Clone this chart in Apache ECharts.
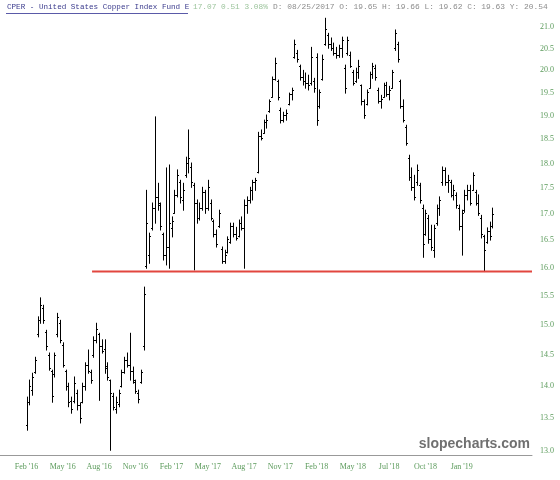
<!DOCTYPE html>
<html><head><meta charset="utf-8">
<script src="https://cdn.jsdelivr.net/npm/echarts@6/dist/echarts.min.js"></script>
<style>html,body{margin:0;padding:0;background:#fff}#c{width:560px;height:480px}</style>
</head><body><div id="c"></div>
<script>
// Weekly-style OHLC bars (CPER), index 0 = first bar (Feb '16)
const opens = [13.45,13.80,14.00,14.28,14.90,15.15,15.35,14.95,14.55,14.30,
14.25,14.90,15.10,14.72,14.30,14.05,13.82,13.82,13.95,13.75,
13.80,14.05,14.40,14.28,14.55,14.80,14.90,14.70,14.65,14.38,
14.15,13.90,13.70,13.78,14.05,14.28,14.48,14.40,14.30,14.12,
13.95,14.12,14.70,16.10,16.30,16.80,17.20,17.40,17.25,16.70,
16.30,16.45,16.80,17.10,17.45,17.70,17.35,17.85,18.10,18.00,
17.65,17.30,17.00,17.20,17.50,17.20,17.30,16.95,16.70,16.85,
16.42,16.20,16.35,16.55,16.85,16.70,16.65,16.90,16.80,17.25,
17.35,17.55,17.70,17.90,18.65,18.72,18.95,19.18,19.50,19.90,
19.85,19.20,19.00,19.10,19.35,19.55,20.40,20.50,20.20,19.95,
19.85,19.80,19.80,19.85,20.40,19.30,19.90,20.70,20.90,20.70,
20.60,20.50,20.45,20.60,20.15,20.50,20.45,20.05,19.85,20.05,
19.75,19.40,19.35,19.70,20.00,20.15,19.65,19.40,19.50,19.75,
19.55,19.70,20.60,20.70,19.85,19.30,18.85,18.20,17.80,17.60,
17.70,17.65,17.20,16.70,17.00,16.60,16.40,16.90,17.20,17.70,
17.95,17.70,17.70,17.45,17.45,17.20,16.85,17.15,17.45,17.55,
17.55,17.50,17.30,17.00,16.65,16.55,16.75,16.85];
const highs = [13.88,14.15,14.26,14.52,15.20,15.53,15.40,14.97,14.59,14.31,
14.59,15.26,15.14,14.76,14.31,14.10,13.88,14.20,13.99,13.79,
14.10,14.43,14.64,14.31,14.86,15.09,14.92,14.81,14.81,14.43,
14.15,13.94,13.88,13.99,14.31,14.52,14.59,14.92,14.36,14.15,
13.99,14.31,15.72,17.54,16.71,17.29,19.06,17.68,17.29,16.71,
17.99,18.05,17.02,17.54,17.95,17.74,17.68,18.21,18.78,18.09,
17.68,17.35,17.29,17.60,17.54,17.74,17.35,16.96,16.77,17.15,
16.45,16.39,16.64,16.90,16.90,16.82,16.96,17.02,17.35,17.41,
17.60,17.74,17.78,18.73,18.78,18.99,19.10,19.43,19.94,20.37,
19.87,19.25,19.16,19.21,19.58,19.69,20.79,20.55,20.21,20.09,
20.03,19.98,20.62,19.91,20.47,19.65,20.44,21.31,20.95,20.84,
20.72,20.62,20.67,20.86,20.21,20.86,20.51,20.09,20.14,20.32,
19.76,19.43,19.65,20.05,20.25,20.21,19.69,19.53,19.80,19.82,
19.73,20.09,21.03,20.74,19.87,19.43,18.88,18.25,17.99,17.84,
18.05,17.68,17.25,17.15,17.05,16.86,16.86,17.25,17.41,18.01,
17.99,17.84,17.74,17.64,17.49,17.25,17.15,17.54,17.64,17.64,
17.89,17.54,17.45,17.05,16.67,16.81,16.92,17.19];
const lows = [13.37,13.76,13.91,14.26,14.86,15.09,15.09,14.64,14.31,13.80,
14.20,14.86,14.76,14.36,13.99,13.73,13.63,13.79,13.68,13.48,
13.79,13.99,14.26,14.10,14.52,14.76,13.83,14.59,14.26,14.15,
13.07,13.68,13.63,13.73,14.04,14.26,14.36,14.15,14.10,13.94,
13.79,14.10,14.64,16.06,16.15,16.77,16.90,17.15,16.77,16.21,
16.12,16.06,16.64,17.09,17.41,17.29,17.15,17.80,17.89,17.60,
16.03,16.90,16.96,17.15,17.09,17.15,16.96,16.64,16.45,16.82,
16.15,16.15,16.34,16.52,16.64,16.58,16.64,16.77,16.06,17.09,
17.29,17.35,17.54,17.89,18.57,18.71,18.82,19.16,19.49,19.87,
19.43,18.93,18.95,18.99,19.32,19.43,20.37,20.28,19.87,19.76,
19.69,19.65,19.76,19.60,18.88,19.25,19.87,20.67,20.60,20.55,
20.44,20.37,20.39,20.39,19.58,20.44,20.16,19.76,19.82,19.91,
19.32,19.03,19.32,19.69,19.91,19.87,19.36,19.25,19.49,19.51,
19.43,19.69,20.55,20.28,19.25,18.95,18.46,17.74,17.54,17.35,
17.64,17.29,16.26,16.67,16.52,16.39,16.26,16.86,17.05,17.64,
17.64,17.50,17.41,17.35,17.19,16.77,16.30,17.11,17.35,17.25,
17.54,17.25,17.05,16.62,16.00,16.52,16.58,16.81];
const closes = [13.80,14.05,14.20,14.48,15.15,15.40,15.15,14.70,14.35,13.90,
14.55,15.20,14.80,14.40,14.05,13.80,13.70,14.10,13.75,13.55,
14.05,14.40,14.30,14.15,14.80,15.00,14.70,14.62,14.35,14.20,
13.95,13.72,13.80,13.95,14.28,14.48,14.40,14.30,14.15,13.98,
13.85,14.28,15.60,16.90,16.65,17.20,17.40,17.30,16.85,16.30,
16.45,16.90,16.95,17.45,17.85,17.40,17.55,18.10,18.20,17.70,
17.30,17.00,17.20,17.50,17.20,17.60,17.00,16.70,16.50,17.10,
16.20,16.30,16.60,16.85,16.70,16.62,16.90,16.80,17.25,17.35,
17.55,17.70,17.75,18.65,18.60,18.95,19.00,19.40,19.90,20.25,
19.50,19.00,19.10,19.15,19.55,19.65,20.70,20.35,19.95,19.85,
19.80,19.75,20.40,19.70,19.00,19.60,20.35,21.05,20.70,20.60,
20.50,20.45,20.60,20.80,19.70,20.80,20.20,19.80,20.05,20.20,
19.40,19.10,19.60,20.00,20.20,19.95,19.40,19.45,19.75,19.55,
19.65,20.05,20.95,20.35,19.30,19.00,18.50,17.80,17.60,17.40,
17.95,17.35,16.50,17.10,16.60,16.45,16.80,17.20,17.35,17.95,
17.70,17.75,17.45,17.55,17.25,16.85,17.10,17.45,17.55,17.30,
17.85,17.30,17.10,16.70,16.40,16.75,16.65,17.07];

const xTickLabels = ["Feb '16","May '16","Aug '16","Nov '16","Feb '17","May '17","Aug '17","Nov '17","Feb '18","May '18","Jul '18","Oct '18","Jan '19"];
const barsPerXTick = 13;
const yTicks = [13.0,13.5,14.0,14.5,15.0,15.5,16.0,16.5,17.0,17.5,18.0,18.5,19.0,19.5,20.0,20.5,21.0];
const supportLevel = 16.0;
const supportStartBar = 23.5;

const ln = Math.log;
const ohlc = opens.map((o, i) => [i, ln(o), ln(closes[i]), ln(lows[i]), ln(highs[i])]);
const xMin = -9.5, xMax = 181.2;

const chart = echarts.init(document.getElementById('c'), null, {renderer: 'canvas'});
const lblFont = 'Liberation Serif';
chart.setOption({
  animation: false,
  backgroundColor: '#fff',
  grid: {left: 0, right: 28, top: 8, bottom: 25, containLabel: false, outerBoundsMode: 'none'},
  xAxis: {
    type: 'value', min: xMin, max: xMax,
    axisLine: {show: true, lineStyle: {color: '#999', width: 1}},
    axisTick: {show: false},
    splitLine: {show: false},
    axisLabel: {
      customValues: xTickLabels.map((_, k) => k * barsPerXTick),
      formatter: v => xTickLabels[Math.round(v / barsPerXTick)],
      color: '#5a9a5a', fontFamily: lblFont, fontSize: 8, margin: 8
    }
  },
  yAxis: {
    type: 'value', position: 'right', min: ln(13), max: ln(21.56),
    axisLine: {show: false}, axisTick: {show: false}, splitLine: {show: false},
    axisLabel: {
      customValues: yTicks.map(ln),
      formatter: v => Math.exp(v).toFixed(1),
      color: '#5a9a5a', fontFamily: lblFont, fontSize: 8, margin: 8,
      verticalAlign: 'bottom'
    }
  },
  series: [
    {
      type: 'custom',
      encode: {x: 0, y: [1, 2, 3, 4]},
      data: ohlc,
      renderItem: (params, api) => {
        const i = api.value(0);
        const o = api.coord([i, api.value(1)]);
        const c = api.coord([i, api.value(2)]);
        const l = api.coord([i, api.value(3)]);
        const h = api.coord([i, api.value(4)]);
        const x = Math.round(o[0]) + 0.5;
        const st = {stroke: '#000', lineWidth: 1};
        return {type: 'group', children: [
          {type: 'line', shape: {x1: x, y1: h[1] - 0.5, x2: x, y2: l[1] + 0.5}, style: st},
          {type: 'line', shape: {x1: x - 1.5, y1: Math.round(o[1]) + 0.5, x2: x, y2: Math.round(o[1]) + 0.5}, style: st},
          {type: 'line', shape: {x1: x, y1: Math.round(c[1]) + 0.5, x2: x + 1.5, y2: Math.round(c[1]) + 0.5}, style: st}
        ]};
      },
      z: 2
    },
    {
      type: 'line', symbol: 'none', silent: true,
      data: [[supportStartBar, ln(supportLevel)], [xMax, ln(supportLevel)]],
      lineStyle: {color: '#e2463f', width: 2},
      z: 3
    }
  ],
  graphic: [
    {type: 'text', x: 7, y: 3, style: {text: 'CPER - United States Copper Index Fund E', font: '7.6px "Liberation Mono"', fill: '#3a3a8c'}},
    {type: 'line', shape: {x1: 6, y1: 13.5, x2: 188, y2: 13.5}, style: {stroke: '#5a5aa8', lineWidth: 1}},
    {type: 'text', x: 193, y: 3, style: {text: '17.07 0.51 3.08%', font: '7.8px "Liberation Mono"', fill: '#9cc49c'}},
    {type: 'text', x: 273, y: 3, style: {text: 'D: 08/25/2017 O: 19.65 H: 19.66 L: 19.62 C: 19.63 Y: 20.54', font: '7.9px "Liberation Mono"', fill: '#8c8c8c'}},
    {type: 'text', x: 530, y: 444, style: {text: 'slopecharts.com', font: 'bold 14px "Liberation Sans"', fill: '#707070', align: 'right', verticalAlign: 'middle'}}
  ]
});
</script>
</body></html>
